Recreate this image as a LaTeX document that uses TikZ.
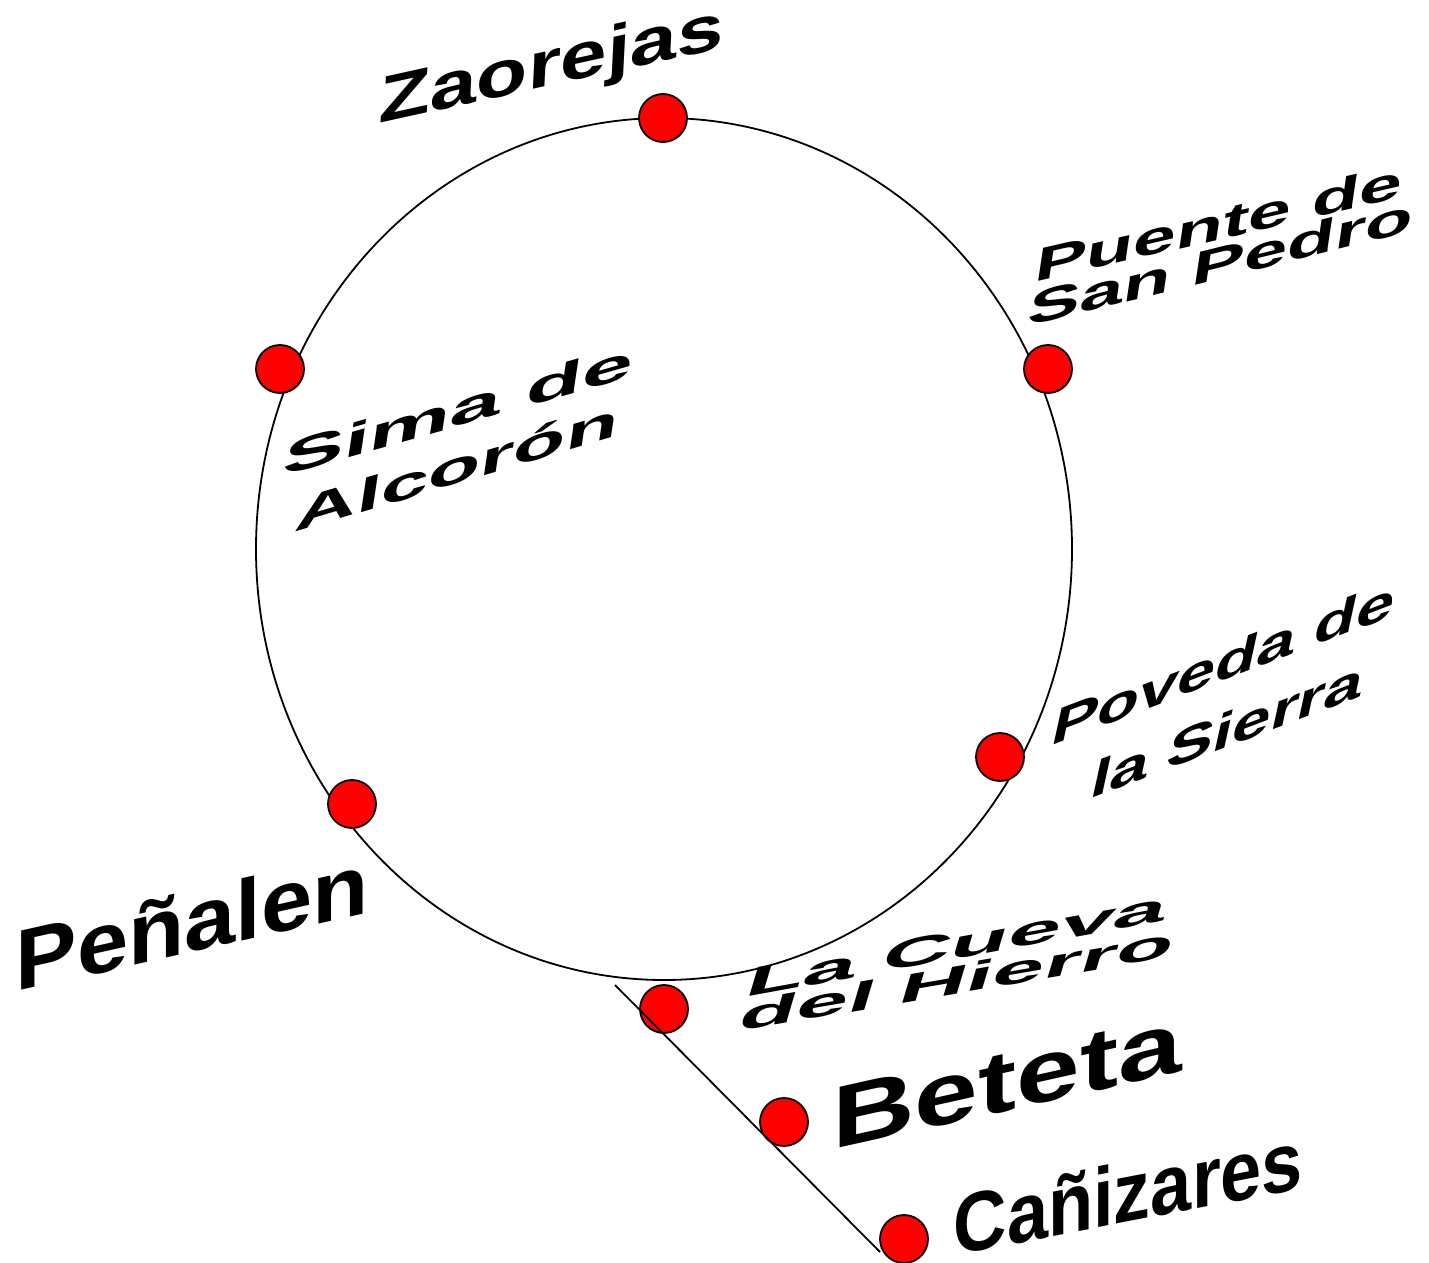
\documentclass[tikz,border=0pt]{standalone}
\usepackage{fontspec}
\setmainfont{Liberation Sans}
\newcommand{\namesize}[1]{\fontsize{#1}{#1}\selectfont}

\tikzset{every picture/.style={line width=1.8pt}}
\tikzset{
  village/.style={circle, draw=black, fill=red, minimum size=48pt, inner sep=0pt},
  placename/.style={anchor=base west, inner sep=0pt}
}

\begin{document}
\begin{tikzpicture}[x=1pt,y=1pt,yscale=-1,xscale=1]
\useasboundingbox (0,0) rectangle (1429,1263);

% route round the villages
\draw (664,549) ellipse [x radius=408pt, y radius=431pt];

% villages
\node[village] (zaorejas) at (663,118) {};
\node[village] (puente) at (1048,369) {};
\node[village] (sima) at (280,369) {};
\node[village] (poveda) at (1000,757) {};
\node[village] (penalen) at (352,804) {};
\node[village] (cueva) at (664,1009) {};
\node[village] (beteta) at (784,1122) {};
\node[village] (canizares) at (904,1239) {};

% road down to Canizares
\coordinate (roadstart) at (615,985);
\coordinate (roadend) at (880,1252);
\draw (roadstart) -- (roadend);

% names
\node[placename, cm={1.27,0.28,0.05,1,(0,0)}, font=\bfseries\namesize{66}] (zaorejasname) at (377,124) {Zaorejas};
\node[placename, cm={1.60,0.37,0.15,1,(0,0)}, font=\bfseries\namesize{48}] (puentename) at (1032,283) {Puente de};
\node[placename, cm={1.62,0.40,0.15,1,(0,0)}, font=\bfseries\namesize{48}] (puentename2) at (1025,327) {San Pedro};
\node[placename, cm={1.90,0.54,0.15,1,(0,0)}, font=\bfseries\namesize{48}] (simaname) at (280,477) {Sima de};
\node[placename, cm={1.78,0.53,0.15,1,(0,0)}, font=\bfseries\namesize{48}] (simaname2) at (292,533) {Alcorón};
\node[placename, cm={1.29,0.49,0.22,1,(0,0)}, font=\bfseries\namesize{53}] (povedaname) at (1048,747) {Poveda de};
\node[placename, cm={1.30,0.49,0.22,1,(0,0)}, font=\bfseries\namesize{53}] (povedaname2) at (1087,800) {la Sierra};
\node[placename, cm={1.07,0.24,0,1,(0,0)}, font=\bfseries\namesize{86}] (penalenname) at (15,992) {Peñalen};
\node[placename, cm={2.25,0.41,0.3,1,(0,0)}, font=\bfseries\namesize{42}] (cuevaname) at (741,998) {La Cueva};
\node[placename, cm={2.21,0.38,0.3,1,(0,0)}, font=\bfseries\namesize{42}] (cuevaname2) at (735,1032) {del Hierro};
\node[placename, cm={1.30,0.29,0,1,(0,0)}, font=\bfseries\namesize{88}] (betetaname) at (831,1150) {Beteta};
\node[placename, cm={0.88,0.17,0,1,(0,0)}, font=\bfseries\namesize{84}] (canizaresname) at (953,1256) {Cañizares};
\end{tikzpicture}
\end{document}
